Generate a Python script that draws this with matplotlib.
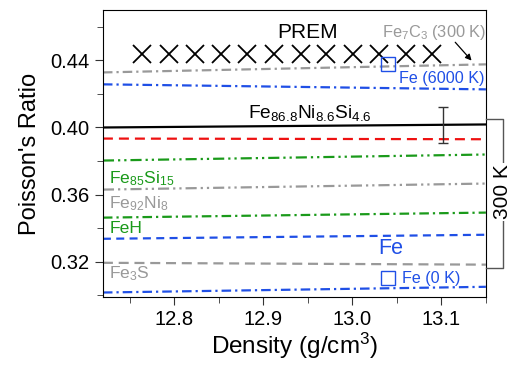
import matplotlib
matplotlib.use("Agg")
import matplotlib.pyplot as plt
import numpy as np

plt.rcParams['font.family'] = ['Liberation Sans', 'DejaVu Sans']
plt.rcParams['mathtext.fontset'] = 'custom'
plt.rcParams['mathtext.rm'] = 'Liberation Sans'
plt.rcParams['mathtext.it'] = 'Liberation Sans'

x_range = [12.72, 13.15]
line_names = ["Fe7C3", "Fe6000", "FeNiSi", "FeNiSi_exp", "Fe85Si15", "Fe92Ni8", "FeH", "Fe", "Fe3S", "Fe0"]
left_vals = [0.4328, 0.4257, 0.4000, 0.3934, 0.3803, 0.3630, 0.3463, 0.3337, 0.3194, 0.3017]
right_vals = [0.4376, 0.4227, 0.4018, 0.3930, 0.3839, 0.3666, 0.3493, 0.3361, 0.3183, 0.3051]
line_colors = ["#999999", "#1f4fe6", "black", "#ee1111", "#1a9a1a", "#999999", "#1a9a1a", "#1f4fe6", "#999999", "#1f4fe6"]
dd = (0, (4.3, 1.8, 1.0, 1.8))
ddd = (0, (5.0, 1.8, 1.0, 1.8, 1.0, 1.8))
line_styles = [dd, dd, "-", (0, (4.5, 2.7)),
               ddd, ddd, dd,
               (0, (3.6, 2.4)), (0, (4.5, 2.6)), dd]

prem_x = [12.764, 12.794, 12.823, 12.853, 12.882, 12.912, 12.942, 12.971, 13.001, 13.030, 13.060, 13.090]
prem_y = [0.4440] * 12

sq_x = [13.04, 13.04]
sq_y = [0.4376, 0.3106]

err_x = 13.102
err_y = 0.4015
err_lo, err_hi = 0.0105, 0.0105

fig = plt.figure(figsize=(5.12, 3.69), dpi=100)
ax = fig.add_axes([0.201, 0.195, 0.748, 0.778])

for lv, rv, c, ls in zip(left_vals, right_vals, line_colors, line_styles):
    ax.plot(x_range, [lv, rv], color=c, linestyle=ls, lw=1.6)

ax.plot(prem_x, prem_y, 'x', color='black', ms=13, mew=1.3, linestyle='none')
ax.plot(sq_x, sq_y, 's', mfc='none', mec='#1f4fe6', ms=10, mew=1.0, linestyle='none')
ax.errorbar([err_x], [err_y], yerr=[[err_lo], [err_hi]], fmt='none', ecolor='#333333', capsize=3.5, elinewidth=1)

ax.set_xlim(*x_range)
ax.set_ylim(0.299, 0.47)
ax.set_xticks([12.8, 12.9, 13.0, 13.1])
ax.set_xticks([12.75, 12.85, 12.95, 13.05, 13.15], minor=True)
ax.set_yticks([0.32, 0.36, 0.40, 0.44])
ax.set_yticks([0.30, 0.34, 0.38, 0.42, 0.46], minor=True)
ax.set_xticklabels(["12.8", "12.9", "13.0", "13.1"])
ax.set_yticklabels(["0.32", "0.36", "0.40", "0.44"])
ax.tick_params(which='both', direction='out', labelsize=14.5, color='#333333')
ax.tick_params(which='major', length=6)
ax.tick_params(which='minor', length=4)
ax.set_xlabel("Density (g/cm$^3$)", fontsize=17.5, labelpad=1)
ax.set_ylabel("Poisson's Ratio", fontsize=17, labelpad=7)

ax.text(12.950, 0.4567, "PREM", fontsize=15, ha='center', va='center', color='black')
ax.text(13.150, 0.4567, "Fe$_7$C$_3$ (300 K)", fontsize=11.8, ha='right', va='center', color='#999999')
ax.annotate("", xy=(13.136, 0.4386), xytext=(13.1135, 0.4520),
            arrowprops=dict(arrowstyle='-|>', color='black', lw=0.9, mutation_scale=9))
ax.text(13.149, 0.4293, "Fe (6000 K)", fontsize=11.6, ha='right', va='center', color='#1f4fe6')
ax.text(12.952, 0.4084, "Fe$_{86.8}$Ni$_{8.6}$Si$_{4.6}$", fontsize=13.8, ha='center', va='center', color='black')
ax.text(12.727, 0.3696, "Fe$_{85}$Si$_{15}$", fontsize=12.6, ha='left', va='center', color='#1a9a1a')
ax.text(12.727, 0.3546, "Fe$_{92}$Ni$_{8}$", fontsize=12.6, ha='left', va='center', color='#999999')
ax.text(12.727, 0.3397, "FeH", fontsize=12.6, ha='left', va='center', color='#1a9a1a')
ax.text(13.043, 0.3278, "Fe", fontsize=15.5, ha='center', va='center', color='#1f4fe6')
ax.text(12.727, 0.3128, "Fe$_3$S", fontsize=12.6, ha='left', va='center', color='#999999')
ax.text(13.056, 0.3100, "Fe (0 K)", fontsize=11.6, ha='left', va='center', color='#1f4fe6')

# 300 K bracket
bx0 = 486 / 512
bx1 = 503 / 512
ytop = 1 - 119 / 369
ybot = 1 - 268 / 369
fig.lines.append(plt.Line2D([bx0, bx1, bx1, bx0], [ytop, ytop, ybot, ybot],
                            transform=fig.transFigure, color='#555555', lw=1))
fig.text(bx1, 1 - 192 / 369, "300 K", rotation=90, fontsize=15, ha='center', va='center',
         bbox=dict(facecolor='white', edgecolor='none', pad=1))

fig.savefig("out.png", dpi=100)
